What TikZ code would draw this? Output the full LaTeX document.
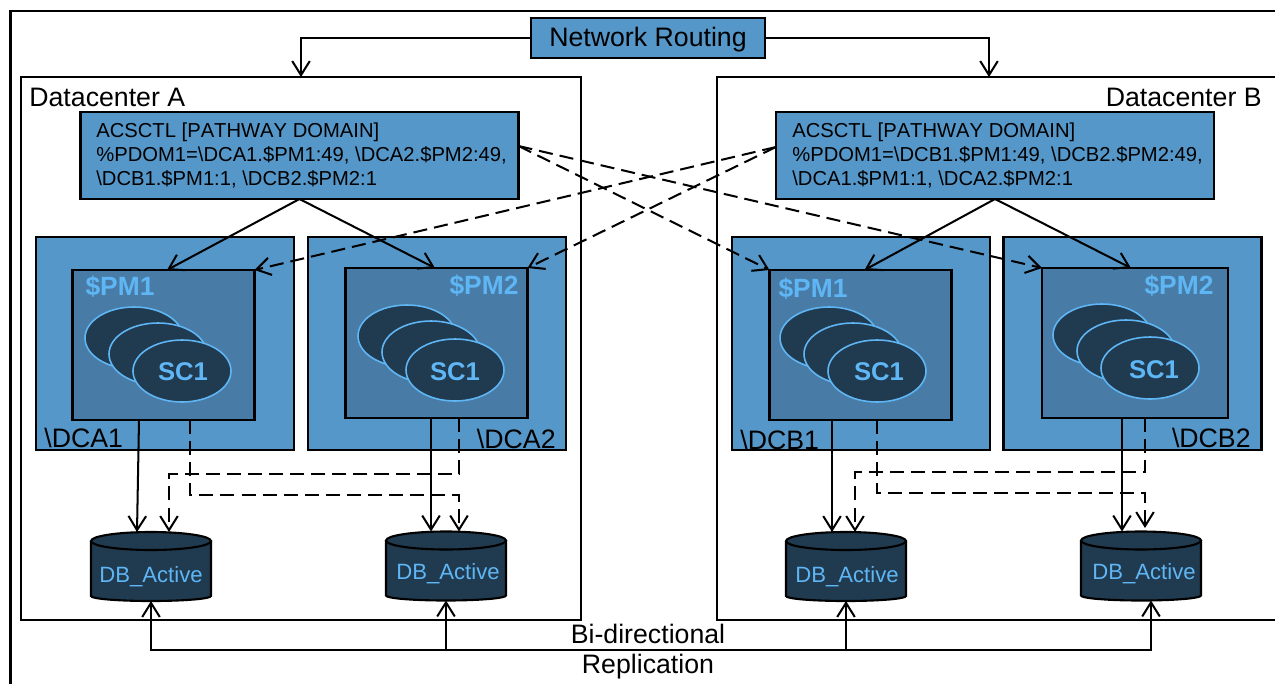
\documentclass[tikz,border=0pt]{standalone}
\usepackage{fontspec}
\setmainfont[Kerning=Off]{Liberation Sans}
\usetikzlibrary{arrows.meta,shapes.geometric}
\definecolor{boxblue}{HTML}{5597C9}
\definecolor{pmblue}{HTML}{487CA6}
\definecolor{darkblue}{HTML}{203A4F}
\definecolor{lightblue}{HTML}{5FB6F5}
\tikzset{
  size/.style 2 args={minimum width=#1*0.02cm, minimum height=#2*0.02cm, inner sep=0pt, outer sep=0pt},
  label15/.style={font=\fontsize{15.2}{17}\selectfont, inner sep=0pt},
  hostbox/.style={draw=black, fill=boxblue, line width=1.2pt, size={258}{213}},
  pmbox/.style={draw=black, fill=pmblue, line width=1.2pt, size={182}{150}},
  ctlbox/.style={draw=black, fill=boxblue, line width=1.2pt, size={438}{87}},
  sitebox/.style={draw=black, line width=1.2pt},
  pmlabel/.style={text=lightblue, font=\fontsize{15}{17}\selectfont\bfseries, inner sep=0pt},
  scnode/.style={ellipse, draw=lightblue, fill=darkblue, line width=.9pt, size={98}{62}},
  sclabel/.style={text=lightblue, inner sep=0pt, font=\fontsize{14.6}{17}\selectfont\bfseries},
  dbnode/.style={size={120}{69}},
  dbbody/.style={draw=black, line width=1.2pt, fill=darkblue},
  dblabel/.style={text=lightblue, inner sep=0pt, font=\fontsize{12.6}{14}\selectfont},
  conn/.style={-{Straight Barb[length=8pt,width=10pt]}, line width=1.15pt},
  dashconn/.style={conn, dash pattern=on 8pt off 4pt}
}
\begin{document}
\begin{tikzpicture}[x=0.02cm, y=-0.02cm]
  \useasboundingbox (0,0) rectangle (1275,684);
  % outer frame
  \coordinate (framea) at (10.5,684);
  \coordinate (frameb) at (10.5,11);
  \coordinate (framec) at (1275,11);
  \draw[line width=1.4pt] (framea) -- (frameb) -- (framec);
  % datacenters
  \node (dca) [sitebox, size={560}{543}] at (301,348.5) {};
  \node (dcb) [sitebox, size={572}{543}] at (1003,348.5) {};
  \node (dcalabel) [label15, anchor=west] at (29,97) {Datacenter A};
  \node (dcblabel) [label15, anchor=east] at (1262,97) {Datacenter B};
  % routing
  \node (net) [draw=black, fill=boxblue, line width=1.2pt, label15, text depth=1pt, size={234}{40}] at (648,38) {Network Routing};
  % domain boxes
  \node (ctla) [ctlbox] at (299.5,155.5) {};
  \node (ctlb) [ctlbox] at (995,155.5) {};
  \node (ctlatext) [align=left, anchor=west, inner sep=0pt, font=\fontsize{11.5}{13.9}\selectfont] at (96,155.5)
    {ACSCTL [PATHWAY DOMAIN]\\ \%PDOM1=\textbackslash DCA1.\$PM1:49, \textbackslash DCA2.\$PM2:49,\\ \textbackslash DCB1.\$PM1:1, \textbackslash DCB2.\$PM2:1};
  \node (ctlbtext) [align=left, anchor=west, inner sep=0pt, font=\fontsize{11.5}{13.9}\selectfont] at (792,155.5)
    {ACSCTL [PATHWAY DOMAIN]\\ \%PDOM1=\textbackslash DCB1.\$PM1:49, \textbackslash DCB2.\$PM2:49,\\ \textbackslash DCA1.\$PM1:1, \textbackslash DCA2.\$PM2:1};
  % hosts
  \node (hosta1) [hostbox] at (165,343.5) {};
  \node (hosta2) [hostbox] at (437,343.5) {};
  \node (hostb1) [hostbox] at (861,343.5) {};
  \node (hostb2) [hostbox] at (1132.5,343.5) {};
  \node (hosta1label) [label15, anchor=west] at (44,438) {\textbackslash DCA1};
  \node (hosta2label) [label15, anchor=east] at (556,439) {\textbackslash DCA2};
  \node (hostb1label) [label15, anchor=west] at (740,440) {\textbackslash DCB1};
  \node (hostb2label) [label15, anchor=east] at (1251,438) {\textbackslash DCB2};
  % pathway monitors
  \node (pma1) [pmbox] at (163.5,345) {};
  \node (pma2) [pmbox] at (436.5,343) {};
  \node (pmb1) [pmbox] at (860.5,345) {};
  \node (pmb2) [pmbox, size={186}{150}] at (1135,343) {};
  \node (pma1label) [pmlabel] at (120,287) {\$PM1};
  \node (pma2label) [pmlabel] at (484,286) {\$PM2};
  \node (pmb1label) [pmlabel] at (813,289) {\$PM1};
  \node (pmb2label) [pmlabel] at (1179,286) {\$PM2};
  % server classes
  \node (sca1c) [scnode] at (134,338) {};
  \node (sca1b) [scnode] at (158,354) {};
  \node (sca1a) [scnode] at (182,371) {};
  \node (sca2c) [scnode] at (407,336) {};
  \node (sca2b) [scnode] at (431,352) {};
  \node (sca2a) [scnode] at (455,370) {};
  \node (scb1c) [scnode] at (829,338) {};
  \node (scb1b) [scnode] at (853,354) {};
  \node (scb1a) [scnode] at (877,371) {};
  \node (scb2c) [scnode] at (1102,335) {};
  \node (scb2b) [scnode] at (1126,351) {};
  \node (scb2a) [scnode] at (1150,368) {};
  \node (sca1label) [sclabel] at (183,372) {SC1};
  \node (sca2label) [sclabel] at (455,372) {SC1};
  \node (scb1label) [sclabel] at (879,372) {SC1};
  \node (scb2label) [sclabel] at (1154,370) {SC1};
  % databases
  \node (dba1) [dbnode] at (151,566.5) {};
  \node (dba2) [dbnode] at (446,566) {};
  \node (dbb1) [dbnode] at (846,566.5) {};
  \node (dbb2) [dbnode] at (1141,566) {};
  \foreach \db in {dba1,dba2,dbb1,dbb2} {
    \draw[dbbody] ([yshift=-.18cm]\db.north west) -- ([yshift=.1cm]\db.south west)
      arc [x radius=1.2cm, y radius=.1cm, start angle=180, end angle=360]
      -- ([yshift=-.18cm]\db.north east);
    \draw[dbbody] ([yshift=-.18cm]\db.north) ellipse [x radius=1.2cm, y radius=.18cm];
  }
  \node (dba1label) [dblabel] at (151,577) {DB\_Active};
  \node (dba2label) [dblabel] at (448,573.5) {DB\_Active};
  \node (dbb1label) [dblabel] at (847,577) {DB\_Active};
  \node (dbb2label) [dblabel] at (1144,573.5) {DB\_Active};
  % routing arrows
  \draw[conn] (net.west) -| (dca.north);
  \draw[conn] (net.east) -| ([xshift=-14*0.02cm]dcb.north);
  % domain to monitors
  \path[conn]
  (ctla.south) edge ([xshift=3.5*0.02cm]pma1.north)
  edge ([xshift=-1.5*0.02cm]pma2.north)
  (ctlb.south) edge ([xshift=4*0.02cm]pmb1.north)
  edge ([xshift=-4*0.02cm]pmb2.north);
  \draw[dashconn] (ctla.east |- 0,146) -- (pmb1.north west);
  \draw[dashconn] (ctla.east |- 0,146) -- (pmb2.north west);
  \draw[dashconn] (ctlb.west |- 0,147) -- (pma1.north east);
  \draw[dashconn] (ctlb.west |- 0,147) -- (pma2.north east);
  % monitors to databases
  \draw[conn] (pma1.south -| 139,0) -- (dba1.north -| 137,0);
  \draw[conn] (pma2.south -| 431,0) -- (dba2.north -| 431,0);
  \draw[conn] (pmb1.south -| 832,0) -- (dbb1.north -| 832,0);
  \draw[conn] (pmb2.south -| 1122,0) -- (dbb2.north -| 1122,0);
  \draw[dashconn] (pma1.south -| 190,0) |- (459,495) -- (dba2.north -| 459,0);
  \draw[dashconn] (pma2.south -| 459,0) |- (169,474) -- (dba1.north -| 169,0);
  \draw[dashconn] (pmb1.south -| 877,0) |- (1145,493) -- (1145,528);
  \draw[dashconn] (pmb2.south -| 1145,0) |- (855,472) -- (dbb1.north -| 855,0);
  % replication
  \coordinate (repl) at (446,650);
  \node (bilabel) [label15] at (648,634) {Bi-directional};
  \node (replabel) [label15] at (648,667) {Replication};
  \draw[conn] (repl) -| (dba1.south);
  \draw[conn] (repl) -- (dba2.south);
  \draw[conn] (repl) -| (dbb1.south);
  \draw[conn] (repl) -| ([xshift=10*0.02cm]dbb2.south);
\end{tikzpicture}
\end{document}
